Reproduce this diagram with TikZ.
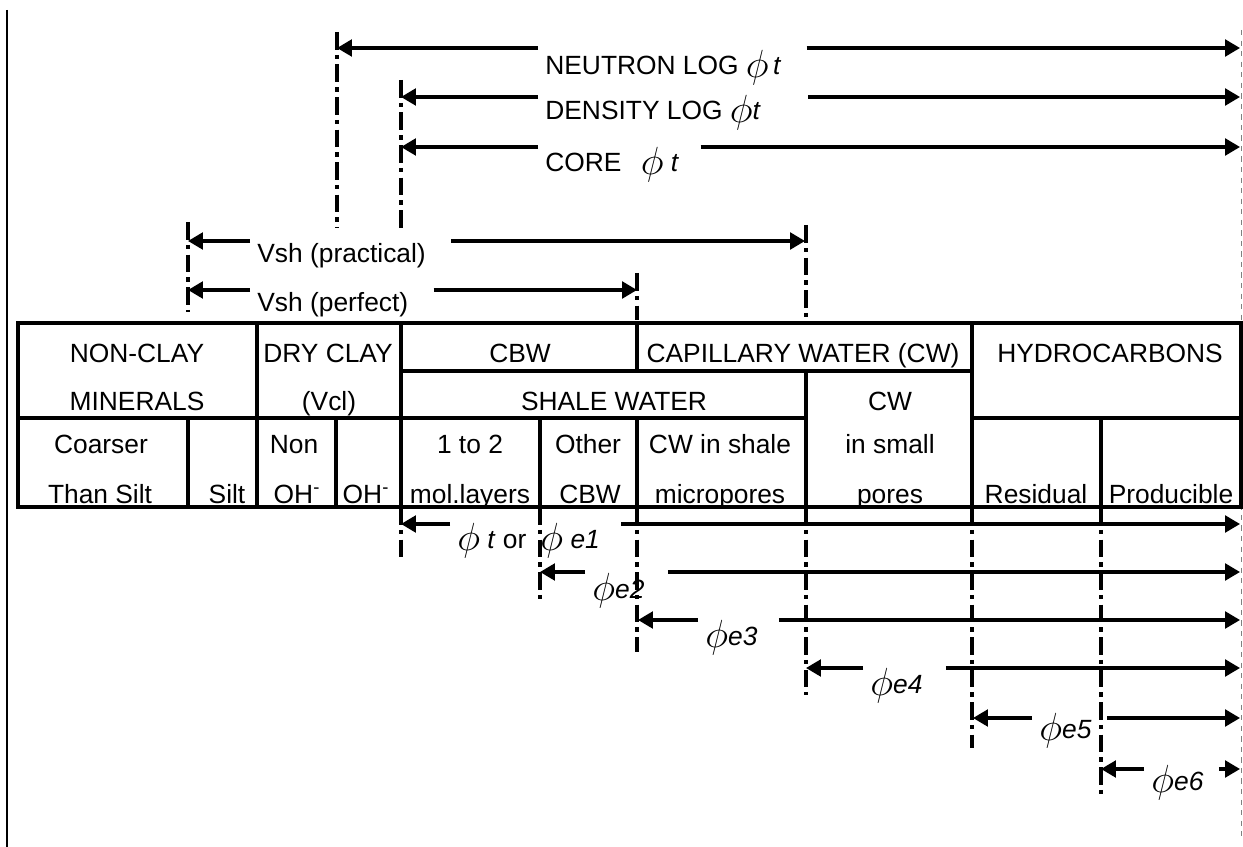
\documentclass[tikz,border=0pt]{standalone}
\usepackage{fontspec}
\setmainfont{Liberation Sans}
\usepackage{tikz}
\usetikzlibrary{arrows.meta, positioning, calc}

\newcommand{\phisym}{\raisebox{-1.5pt}{\scalebox{1.55}{$\phi$}}}

\begin{document}
\begin{tikzpicture}[
    x=0.02cm, y=-0.02cm,
    >={Triangle[length=8.5pt, width=9.5pt]},
    cell/.style={anchor=base, inner sep=0pt, font=\fontsize{15}{18}\selectfont},
    lbl/.style={anchor=base west, inner xsep=4pt, inner ysep=0pt, font=\fontsize{15}{18}\selectfont},
    arr/.style={->, line width=1.8pt},
    tbl/.style={line width=2pt},
    cutline/.style={line width=1.8pt, dash pattern=on 10pt off 3pt on 2.5pt off 3pt},
    rim/.style={line width=0.5pt, dashed, gray},
]
\useasboundingbox (0,0) rectangle (1243,847);

% Frame lines
\draw[line width=1.1pt] (7,10) -- (7,847);
\draw[rim] (1241,30) -- (1241,840);

% Table
\draw[tbl] (18,323) rectangle (1241,507);
\draw[tbl] (401,371) -- (972,371);
\draw[tbl] (18,418) -- (806,418);
\draw[tbl] (972,418) -- (1241,418);
\draw[tbl] (257,323) -- (257,507);
\draw[tbl] (401,323) -- (401,507);
\draw[tbl] (637,323) -- (637,371);
\draw[tbl] (637,418) -- (637,507);
\draw[tbl] (806,371) -- (806,507);
\draw[tbl] (972,323) -- (972,507);
\draw[tbl] (188,418) -- (188,507);
\draw[tbl] (336,418) -- (336,507);
\draw[tbl] (540,418) -- (540,507);
\draw[tbl] (1101,418) -- (1101,507);

% Row 1
\node[cell] (nonclay) at (137,363) {NON-CLAY};
\node[cell] (dryclay) at (328,363) {DRY CLAY};
\node[cell] (cbw) at (520,363) {CBW};
\node[cell] (capwater) at (803,363) {CAPILLARY WATER (CW)};
\node[cell] (hydro) at (1110,363) {HYDROCARBONS};

% Row 2
\node[cell] (minerals) at (137,411) {MINERALS};
\node[cell] (vcl) at (329,411) {(Vcl)};
\node[cell] (shalewater) at (614,411) {SHALE WATER};
\node[cell] (cw) at (890,411) {CW};

% Row 3
\node[cell] (coarser) at (101,453) {Coarser};
\node[cell] (non) at (294,453) {Non};
\node[cell] (onetwo) at (470,453) {1 to 2};
\node[cell] (other) at (588,453) {Other};
\node[cell] (cwshale) at (720,453) {CW in shale};
\node[cell] (insmall) at (890,453) {in small};

% Row 4
\node[cell] (thansilt) at (100,503) {Than Silt};
\node[cell] (silt) at (227,503) {Silt};
\node[cell] (ohA) at (297,503) {OH\textsuperscript{-}};
\node[cell] (ohB) at (366,503) {OH\textsuperscript{-}};
\node[cell] (mollayers) at (470,503) {mol.layers};
\node[cell] (cbwB) at (590,503) {CBW};
\node[cell] (micropores) at (720,503) {micropores};
\node[cell] (pores) at (890,503) {pores};
\node[cell] (residual) at (1036,503) {Residual};
\node[cell] (producible) at (1171,503) {Producible};

% Limits above the table
\draw[cutline] (337,32) -- (337,228);
\draw[cutline] (401,80) -- (401,228);
\draw[cutline] (188,222) -- (188,312);
\draw[cutline] (637,273) -- (637,320);
\draw[cutline] (806,225) -- (806,318);

% Limits below the table
\draw[cutline] (401,507) -- (401,557);
\draw[cutline] (540,507) -- (540,603);
\draw[cutline] (637,507) -- (637,652);
\draw[cutline] (806,507) -- (806,695);
\draw[cutline] (972,507) -- (972,748);
\draw[cutline] (1101,507) -- (1101,797);

% Total porosity ranges
\coordinate (neutronL) at (337,48);
\coordinate (neutronR) at (1240,48);
\node[lbl] (neutron) at (538,75) {NEUTRON LOG \phisym\,\textit{t}};
\draw[arr] (neutron.west |- neutronL) -- (neutronL);
\draw[arr] ($(neutron.east |- neutronR)+(18,0)$) -- (neutronR);

\coordinate (densityL) at (401,97);
\coordinate (densityR) at (1240,97);
\node[lbl] (density) at (538,120) {DENSITY LOG \phisym\textit{t}};
\draw[arr] (density.west |- densityL) -- (densityL);
\draw[arr] ($(density.east |- densityR)+(40,0)$) -- (densityR);

\coordinate (coreL) at (401,147);
\coordinate (coreR) at (1240,147);
\node[lbl] (core) at (538,172) {CORE\hspace{11pt}\phisym\ \textit{t}};
\draw[arr] (core.west |- coreL) -- (coreL);
\draw[arr] ($(core.east |- coreR)+(14,0)$) -- (coreR);

% Shale volume ranges
\coordinate (vshpracL) at (188,241);
\coordinate (vshpracR) at (805,241);
\node[lbl] (vshprac) at (250,263) {Vsh (practical)};
\draw[arr] (vshprac.west |- vshpracL) -- (vshpracL);
\draw[arr] ($(vshprac.east |- vshpracR)+(18,0)$) -- (vshpracR);

\coordinate (vshperfL) at (188,290);
\coordinate (vshperfR) at (637,290);
\node[lbl] (vshperf) at (250,312) {Vsh (perfect)};
\draw[arr] (vshperf.west |- vshperfL) -- (vshperfL);
\draw[arr] ($(vshperf.east |- vshperfR)+(18,0)$) -- (vshperfR);

% Effective porosity ranges
\coordinate (phitL) at (401,524);
\coordinate (phitR) at (1240,524);
\node[lbl] (phit) at (450,548) {\phisym\ \textit{t} or\hspace{8pt}\phisym\ \textit{e1}};
\draw[arr] (phit.west |- phitL) -- (phitL);
\draw[arr] ($(phit.east |- phitR)+(14,0)$) -- (phitR);

\coordinate (phieTwoL) at (540,572);
\coordinate (phieTwoR) at (1240,572);
\node[lbl] (phieTwo) at (585,598) {\phisym\textit{e2}};
\draw[arr] (phieTwo.west |- phieTwoL) -- (phieTwoL);
\draw[arr] ($(phieTwo.east |- phieTwoR)+(16,0)$) -- (phieTwoR);

\coordinate (phieThreeL) at (638,620);
\coordinate (phieThreeR) at (1240,620);
\node[lbl] (phieThree) at (698,645) {\phisym\textit{e3}};
\draw[arr] (phieThree.west |- phieThreeL) -- (phieThreeL);
\draw[arr] ($(phieThree.east |- phieThreeR)+(14,0)$) -- (phieThreeR);

\coordinate (phieFourL) at (806,668);
\coordinate (phieFourR) at (1240,668);
\node[lbl] (phieFour) at (863,693) {\phisym\textit{e4}};
\draw[arr] (phieFour.west |- phieFourL) -- (phieFourL);
\draw[arr] ($(phieFour.east |- phieFourR)+(16,0)$) -- (phieFourR);

\coordinate (phieFiveL) at (973,718);
\coordinate (phieFiveR) at (1240,718);
\node[lbl] (phieFive) at (1032,738) {\phisym\textit{e5}};
\draw[arr] (phieFive.west |- phieFiveL) -- (phieFiveL);
\draw[arr] ($(phieFive.east |- phieFiveR)+(8,0)$) -- (phieFiveR);

\coordinate (phieSixL) at (1101,769);
\coordinate (phieSixR) at (1240,769);
\node[lbl] (phieSix) at (1144,790) {\phisym\textit{e6}};
\draw[arr] (phieSix.west |- phieSixL) -- (phieSixL);
\draw[arr] ($(phieSix.east |- phieSixR)+(8,0)$) -- (phieSixR);

\end{tikzpicture}
\end{document}
